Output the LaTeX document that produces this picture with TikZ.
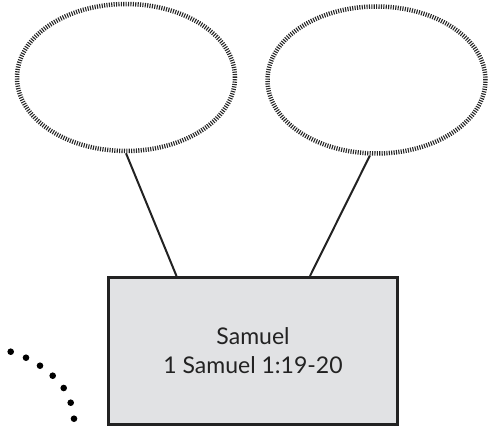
\documentclass[tikz,border=0pt]{standalone}
\usepackage{fontspec}
\setmainfont{Lato}
\usetikzlibrary{shapes.geometric}
\definecolor{boxfill}{HTML}{E1E2E4}
\definecolor{ink}{HTML}{222222}
\tikzset{
  bubble/.style={ellipse, draw=black!85, line width=4.5pt, dash pattern=on 1.1pt off 1.3pt,
    minimum width=218pt, minimum height=147pt, inner sep=0pt},
  mainbox/.style={rectangle, draw=ink, fill=boxfill, line width=3pt,
    minimum width=289pt, minimum height=147pt, inner sep=0pt, align=center,
    font=\fontsize{23}{29}\selectfont, text=ink},
  link/.style={draw=ink, line width=2pt},
  dotmark/.style={fill=black}
}
\begin{document}
\begin{tikzpicture}[x=1pt,y=-1pt]
\useasboundingbox (0,0) rectangle (493,428);
\node[bubble] (e1) at (126,77.5) {};
\node[bubble] (e2) at (376.5,80) {};
\node[mainbox] (box) at (253,351) {Samuel\\1 Samuel 1:19-20};
\coordinate (b1) at ([xshift=69.5pt]box.north west);
\coordinate (b2) at ([xshift=203pt]box.north west);
\draw[link] (e1.south) -- (b1);
\draw[link] (e2.265) -- (b2);
\foreach \x/\y in {10.7/351.7, 26/357.7, 40/365.7, 52.7/375.7, 63.7/388, 70.7/402.7, 74/418.7}
  \fill[dotmark] (\x,\y) circle[radius=3.3pt];
\end{tikzpicture}
\end{document}
